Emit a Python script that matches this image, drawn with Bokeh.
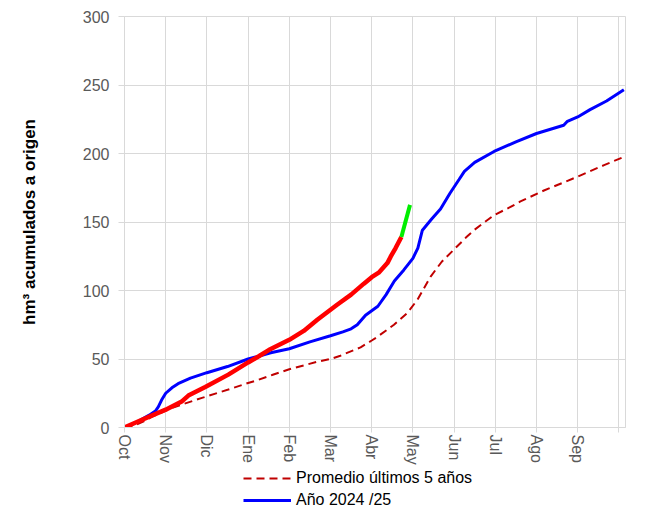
import math
from bokeh.plotting import figure
from bokeh.layouts import column
from bokeh.models import Legend, FixedTicker, Range1d
from bokeh.embed import file_html
from bokeh.resources import INLINE

# x positions are in months since 1 October (0 = Oct, 12 = next Oct)
months = ["Oct", "Nov", "Dic", "Ene", "Feb", "Mar", "Abr", "May", "Jun", "Jul", "Ago", "Sep"]

prom_x = [0.0, 0.2, 0.5, 0.66, 1.15, 1.88, 2.52, 3.0, 3.21, 3.6, 4.0, 4.68, 5.0, 5.24, 5.73,
          6.0, 6.13, 6.54, 6.86, 7.11, 7.43, 7.7, 8.0, 8.3, 8.48, 8.97, 9.37, 9.61, 10.18,
          10.91, 11.64, 12.16]
prom_y = [0.0, 1.0, 5.0, 7.8, 14.3, 21.6, 27.7, 32.5, 34.4, 38.5, 42.5, 48.0, 50.0, 52.4, 58.5,
          63.5, 66.0, 75.0, 83.5, 93.2, 110.2, 121.0, 130.0, 139.0, 144.0, 155.0, 161.0, 165.0,
          173.0, 182.0, 191.5, 198.0]

a2425_x = [0.0, 0.3, 0.6, 0.75, 0.82, 0.9, 1.0, 1.15, 1.3, 1.6, 2.0, 2.5, 3.0, 3.25, 3.55, 4.0,
           4.5, 5.0, 5.3, 5.5, 5.65, 5.85, 6.15, 6.35, 6.55, 6.78, 7.0, 7.12, 7.23, 7.45, 7.67,
           7.9, 8.12, 8.25, 8.5, 8.97, 9.5, 10.0, 10.66, 10.75, 11.0, 11.3, 11.7, 12.12]
a2425_y = [0.0, 4.0, 9.0, 12.0, 15.0, 20.0, 25.0, 29.0, 32.0, 36.0, 40.0, 44.5, 50.0, 52.0, 54.5,
           57.5, 62.5, 67.0, 69.8, 72.0, 75.0, 82.0, 88.5, 97.0, 107.0, 115.0, 123.5, 131.0,
           144.0, 152.0, 159.5, 171.0, 181.0, 187.0, 193.5, 201.5, 208.5, 214.6, 220.6, 223.5,
           226.7, 232.0, 238.3, 246.5]

actual_x = [0.0, 0.3, 0.66, 1.0, 1.4, 1.55, 1.96, 2.52, 3.0, 3.26, 3.5, 4.0, 4.35, 4.68, 5.0,
            5.16, 5.5, 5.81, 6.0, 6.17, 6.38, 6.46, 6.58, 6.72]
actual_y = [0.0, 4.0, 8.7, 13.0, 19.2, 23.3, 29.6, 38.6, 47.5, 52.0, 56.5, 64.0, 70.5, 78.6,
            86.0, 89.6, 97.0, 105.0, 109.7, 113.0, 120.0, 124.7, 131.0, 139.0]

prev_x = [6.72, 6.93]
prev_y = [139.0, 162.5]

yticks = [0, 50, 100, 150, 200, 250, 300]
legend_labels = ["Promedio últimos 5 años", "Año 2024 /25"]

FONT = "Liberation Sans"
GRID = "#D9D9D9"
PROM_STYLE = dict(line_color="#C00000", line_width=2, line_dash="8 5")
BLUE_STYLE = dict(line_color="#0000FF", line_width=3)

p = figure(frame_width=501, frame_height=411, output_backend="svg", toolbar_location=None,
           x_range=Range1d(0, 12.16), y_range=Range1d(0, 300),
           min_border_left=124, min_border_right=31, min_border_top=16, min_border_bottom=38)
p.background_fill_color = "white"
p.border_fill_color = "white"
p.outline_line_color = GRID

p.line(prom_x, prom_y, **PROM_STYLE)
p.line(a2425_x, a2425_y, **BLUE_STYLE)
p.line(actual_x, actual_y, line_color="#FF0000", line_width=4.5)
p.line(prev_x, prev_y, line_color="#00EE00", line_width=4)

p.xaxis.ticker = FixedTicker(ticks=list(range(13)))
p.xaxis.major_label_overrides = {i: (months[i] if i < 12 else "") for i in range(13)}
p.xaxis.major_label_orientation = -math.pi / 2
p.yaxis.ticker = FixedTicker(ticks=yticks)

for ax in (p.xaxis[0], p.yaxis[0]):
    ax.axis_line_color = GRID
    ax.major_tick_line_color = GRID
    ax.major_tick_in = 0
    ax.minor_tick_line_color = None
    ax.major_label_text_font = FONT
    ax.major_label_text_font_size = "16px"
    ax.major_label_text_color = "#595959"
p.xaxis.major_tick_out = 5
p.yaxis.major_tick_out = 6
p.yaxis.major_label_standoff = 9
p.xaxis.major_label_standoff = 2

p.yaxis.axis_label = "hm³ acumulados a origen"
p.yaxis.axis_label_text_font = FONT
p.yaxis.axis_label_text_font_size = "17px"
p.yaxis.axis_label_text_font_style = "bold"
p.yaxis.axis_label_text_color = "black"
p.yaxis.axis_label_standoff = 41

p.xgrid.grid_line_color = GRID
p.ygrid.grid_line_color = GRID
p.xgrid.ticker = FixedTicker(ticks=list(range(13)))
p.ygrid.ticker = FixedTicker(ticks=yticks)

# Legend strip below the chart (a separate, axis-less figure whose view range
# lies outside the data, so its proxy lines only show up as legend glyphs)
lg = figure(width=656, height=46, output_backend="svg", toolbar_location=None,
            x_range=Range1d(100, 101), y_range=Range1d(1000, 1001),
            min_border=0, min_border_left=0, min_border_right=0,
            min_border_top=0, min_border_bottom=0)
lg.axis.visible = False
lg.grid.visible = False
lg.outline_line_color = None
lg.background_fill_color = "white"
lg.border_fill_color = "white"
r_prom = lg.line(prom_x, prom_y, **PROM_STYLE)
r_blue = lg.line(a2425_x, a2425_y, **BLUE_STYLE)

legend = Legend(items=[(legend_labels[0], [r_prom]), (legend_labels[1], [r_blue])],
                location=(119, 3), orientation="vertical",
                border_line_alpha=0, background_fill_alpha=0,
                label_text_font=FONT, label_text_font_size="16px", label_text_color="black",
                glyph_width=48, glyph_height=20, label_height=20, spacing=2,
                padding=0, margin=0, label_standoff=5)
lg.add_layout(legend)

layout = column(p, lg, spacing=0)
open("out.html", "w").write(file_html(layout, INLINE))
